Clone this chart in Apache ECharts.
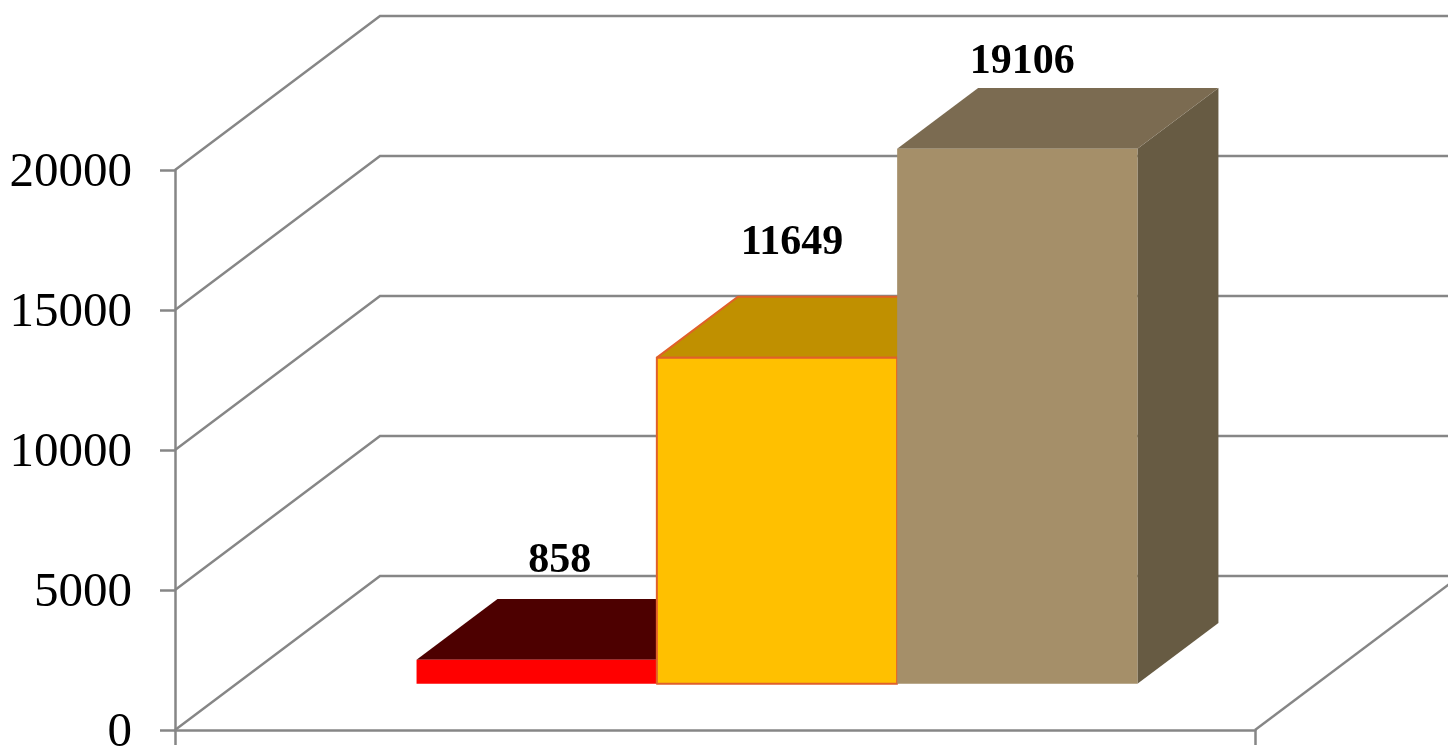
<!DOCTYPE html>
<html>
<head>
<meta charset="utf-8">
<style>html,body{margin:0;padding:0;background:#fff}#c{width:1448px;height:749px}</style>
<script src="https://cdn.jsdelivr.net/npm/echarts@6/dist/echarts.min.js"></script>
</head>
<body>
<div id="c"></div>
<script>
const categories = [''];
const seriesValues = [858, 11649, 19106];
const tickValues = [0, 5000, 10000, 15000, 20000];

const SERIF = '"Liberation Serif","Times New Roman",serif';
const GRID_COLOR = '#868686';
const DEPTH = { x: 205, y: -154 };
const GAP_UNITS = 4.5;
const BAR_FRONT = 0.3, BAR_BACK = 0.695;
const looks = [
  { front: '#ff0000', top: '#4d0000', side: '#b00000', stroke: null, dx: 23, dy: -99 },
  { front: '#ffc000', top: '#c09000', side: '#c09000', stroke: '#e0602a', dx: 15, dy: -114 },
  { front: '#a58f69', top: '#7b6b51', side: '#675b43', stroke: null, dx: 5, dy: -87 }
];

const chart = echarts.init(document.getElementById('c'), null, { renderer: 'canvas' });

function renderWall(params, api) {
  const p0 = api.coord([0, api.value(0)]);
  const band = api.size([1, 0])[0];
  const left = p0[0] - band / 2;
  const right = p0[0] + band / 2;
  const y = p0[1];
  const children = [{
    type: 'polyline',
    shape: { points: [[left, y], [left + DEPTH.x, y + DEPTH.y], [right + DEPTH.x, y + DEPTH.y]] },
    style: { stroke: GRID_COLOR, fill: null, lineWidth: 2.4 }
  }];
  if (api.value(0) === 0) {
    children.push({
      type: 'line',
      shape: { x1: right, y1: y, x2: right + DEPTH.x, y2: y + DEPTH.y },
      style: { stroke: GRID_COLOR, lineWidth: 2.4 }
    });
  }
  return { type: 'group', children };
}

function bar3d(index) {
  const look = looks[index];
  return function (params, api) {
    const v = api.value(1);
    const c = api.coord([0, v]);
    const b = api.coord([0, 0]);
    const band = api.size([1, 0])[0];
    const w = band / GAP_UNITS + 0.3;
    const x0 = c[0] + (index - 1.5) * w + DEPTH.x * BAR_FRONT + 0.5;
    const x1 = x0 + w;
    const yTop = c[1] + DEPTH.y * BAR_FRONT;
    const yBot = b[1] + DEPTH.y * BAR_FRONT;
    const ox = DEPTH.x * (BAR_BACK - BAR_FRONT);
    const oy = DEPTH.y * (BAR_BACK - BAR_FRONT);
    const strokeStyle = look.stroke ? { stroke: look.stroke, lineWidth: 2, lineJoin: 'round' } : {};
    return {
      type: 'group',
      children: [
        { type: 'polygon', shape: { points: [[x1, yTop], [x1 + ox, yTop + oy], [x1 + ox, yBot + oy], [x1, yBot]] },
          style: { fill: look.side } },
        { type: 'polygon', shape: { points: [[x0, yTop], [x0 + ox, yTop + oy], [x1 + ox, yTop + oy], [x1, yTop]] },
          style: Object.assign({ fill: look.top }, strokeStyle) },
        { type: 'rect', shape: { x: x0, y: yTop, width: w, height: yBot - yTop },
          style: Object.assign({ fill: look.front }, strokeStyle) },
        { type: 'text', x: (x0 + x1) / 2 + look.dx, y: yTop + look.dy,
          style: { text: String(v), fill: '#000', font: 'bold 42px ' + SERIF, align: 'center', verticalAlign: 'middle' } }
      ]
    };
  };
}

chart.setOption({
  animation: false,
  backgroundColor: '#fff',
  grid: { left: 175, top: 170, width: 1080, height: 560, containLabel: false, outerBoundsMode: 'none' },
  xAxis: {
    type: 'category',
    data: categories,
    axisLine: { show: true, lineStyle: { color: GRID_COLOR, width: 2.5 } },
    axisTick: { show: true, length: 15, alignWithLabel: false, lineStyle: { color: GRID_COLOR, width: 2.5 } },
    axisLabel: { show: false },
    splitLine: { show: false }
  },
  yAxis: {
    type: 'value',
    min: 0,
    max: 20000,
    interval: 5000,
    axisLine: { show: true, lineStyle: { color: GRID_COLOR, width: 2.5 } },
    axisTick: { show: true, length: 15, lineStyle: { color: GRID_COLOR, width: 2.5 } },
    axisLabel: { show: true, color: '#000', fontFamily: SERIF, fontSize: 49, margin: 43, verticalAlign: 'top', padding: [-21, 0, 0, 0], formatter: v => String(v) },
    splitLine: { show: false }
  },
  series: [
    { type: 'custom', z: 1, silent: true, clip: false, renderItem: renderWall,
      encode: { y: 0 }, data: tickValues.map(t => [t]) },
    ...seriesValues.map((v, i) => ({
      type: 'custom', z: 2 + i, silent: true, clip: false,
      renderItem: bar3d(i),
      encode: { x: 0, y: 1 },
      data: [[0, v]]
    }))
  ]
});
</script>
</body>
</html>
